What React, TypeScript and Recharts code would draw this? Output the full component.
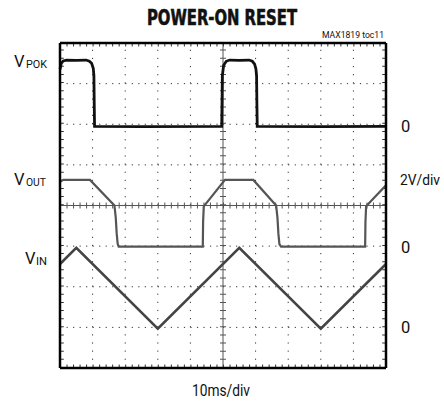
import { Line, LineChart, ReferenceLine, XAxis, YAxis } from 'recharts'

// time in divisions (10ms/div), level in screen divisions from the bottom
const POK_T = [0, 0.04, 0.1, 0.2, 0.5, 0.8, 0.9, 0.97, 1.02, 1.04, 1.05, 1.06, 2.5, 4.96, 4.97, 4.98, 5.02, 5.1, 5.2, 5.5, 5.8, 5.9, 5.97, 6.01, 6.03, 6.04, 6.05, 8, 10]
const POK_V = [7.35, 7.5, 7.56, 7.58, 7.57, 7.58, 7.55, 7.5, 7.38, 7.2, 6.5, 5.95, 5.94, 5.95, 6.5, 7.2, 7.45, 7.55, 7.58, 7.57, 7.58, 7.55, 7.48, 7.36, 7.2, 6.5, 5.95, 5.94, 5.95]

const OUT_T = [0, 0.1, 0.92, 1.67, 1.71, 1.74, 1.77, 1.8, 4.38, 4.39, 4.41, 5.06, 5.93, 6.63, 6.67, 6.7, 6.73, 6.78, 9.36, 9.37, 9.39, 10]
const OUT_V = [4.58, 4.63, 4.63, 4.0, 3.7, 3.3, 3.05, 2.99, 2.99, 3.6, 3.98, 4.63, 4.63, 4.0, 3.7, 3.3, 3.05, 2.99, 2.99, 3.6, 3.98, 4.5]

const IN_T = [0, 0.5, 3, 5.5, 8, 10]
const IN_V = [2.56, 2.96, 0.97, 2.96, 0.97, 2.56]

const GRID_X = [1, 2, 3, 4, 6, 7, 8, 9]
const GRID_Y = [1, 2, 3, 5, 6, 7]
// graticule edge ticks, set just inside the frame
const EDGE_X = [0.07, 9.93]
const EDGE_Y = [0.05, 7.95]

const pok = POK_T.map((t, i) => ({ t, v: POK_V[i] }))
const vout = OUT_T.map((t, i) => ({ t, v: OUT_V[i] }))
const vin = IN_T.map((t, i) => ({ t, v: IN_V[i] }))

const FONT = "Roboto, 'Liberation Sans', Arial, sans-serif"
const TITLE_FONT = "'DejaVu Sans Condensed', Roboto, sans-serif"
const edge = { stroke: '#000', strokeWidth: 2.5 }

export default function App() {
  return (
    <div style={{ position: 'absolute', left: 0, top: 0, width: 444, height: 402, background: '#fff' }}>
      <LineChart width={444} height={402} margin={{ top: 43, right: 58, bottom: 34, left: 60 }}>
        {GRID_X.map((x) => (
          <ReferenceLine key={`gx${x}`} x={x} stroke="#333" strokeDasharray="1.2 6.93" />
        ))}
        {GRID_Y.map((y) => (
          <ReferenceLine key={`gy${y}`} y={y} stroke="#333" strokeDasharray="1.2 5.32" />
        ))}
        {EDGE_X.map((x) => (
          <ReferenceLine key={`ex${x}`} x={x} stroke="#333" strokeWidth={3} strokeDasharray="1 7.14" />
        ))}
        {EDGE_Y.map((y) => (
          <ReferenceLine key={`ey${y}`} y={y} stroke="#333" strokeWidth={3} strokeDasharray="1 5.52" />
        ))}
        <ReferenceLine y={4} stroke="#555" strokeWidth={1} />
        <ReferenceLine y={4} stroke="#555" strokeWidth={6} strokeDasharray="1 5.52" />
        <ReferenceLine x={5} stroke="#555" strokeWidth={1} />
        <ReferenceLine x={5} stroke="#555" strokeWidth={6} strokeDasharray="1 7.14" />
        <XAxis type="number" dataKey="t" domain={[0, 10]} orientation="bottom" mirror tick={false} tickLine={false} axisLine={edge} />
        <XAxis xAxisId="top" type="number" dataKey="t" domain={[0, 10]} orientation="top" mirror tick={false} tickLine={false} axisLine={edge} />
        <YAxis type="number" domain={[0, 8]} orientation="left" mirror tick={false} tickLine={false} axisLine={edge} />
        <YAxis yAxisId="right" type="number" domain={[0, 8]} orientation="right" mirror tick={false} tickLine={false} axisLine={edge} />
        <Line data={vin} dataKey="v" type="linear" dot={false} stroke="#444" strokeWidth={2.6} isAnimationActive={false} />
        <Line data={vout} dataKey="v" type="linear" dot={false} stroke="#555" strokeWidth={2.2} isAnimationActive={false} />
        <Line data={pok} dataKey="v" type="linear" dot={false} stroke="#111" strokeWidth={2.8} isAnimationActive={false} />
      </LineChart>
      <svg width={444} height={402} style={{ position: 'absolute', left: 0, top: 0, pointerEvents: 'none' }} fontFamily={FONT} fill="#111">
        <text x={147} y={25} fontFamily={TITLE_FONT} fontSize={21} fontWeight={700} stroke="#111" strokeWidth={0.6} textLength={150} lengthAdjust="spacingAndGlyphs">POWER-ON RESET</text>
        <text x={322} y={38} fontSize={9.5} textLength={62} lengthAdjust="spacingAndGlyphs">MAX1819 toc11</text>
        <text x={14} y={67} fontSize={16.5}>V<tspan x={26} dy={1} fontSize={11} textLength={21} lengthAdjust="spacingAndGlyphs">POK</tspan></text>
        <text x={14} y={185} fontSize={16.5}>V<tspan x={26} dy={1} fontSize={11} textLength={20} lengthAdjust="spacingAndGlyphs">OUT</tspan></text>
        <text x={25} y={264} fontSize={16.5}>V<tspan x={36} dy={1} fontSize={11} textLength={11} lengthAdjust="spacingAndGlyphs">IN</tspan></text>
        <text x={401} y={132} fontSize={16.5}>0</text>
        <text x={400} y={185} fontSize={15} textLength={40} lengthAdjust="spacingAndGlyphs">2V/div</text>
        <text x={401} y={253} fontSize={16.5}>0</text>
        <text x={401} y={333} fontSize={16.5}>0</text>
        <text x={192} y={396} fontSize={16.5} textLength={58} lengthAdjust="spacingAndGlyphs">10ms/div</text>
      </svg>
    </div>
  )
}
